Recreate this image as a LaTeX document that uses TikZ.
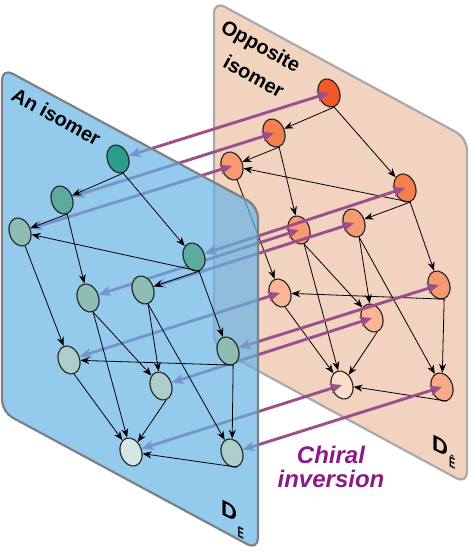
\documentclass[tikz,border=0pt]{standalone}
\usepackage{fontspec}
\setmainfont{Liberation Sans}
\usetikzlibrary{shapes.geometric,arrows.meta}
\pgfdeclarelayer{bg}
\pgfdeclarelayer{arr}
\pgfdeclarelayer{bpanel}
\pgfsetlayers{bg,arr,bpanel,main}
\definecolor{peach}{HTML}{F1D3BF}
\definecolor{bluep}{HTML}{66B5E6}
\definecolor{pborder}{HTML}{A9A9AC}
\definecolor{bborder}{HTML}{7E8083}
\definecolor{arrowc}{HTML}{9C4F8C}
\definecolor{chiralc}{HTML}{8C1A84}
\definecolor{ndline}{HTML}{231F20}
\definecolor{ta}{HTML}{2E9C8C}
\definecolor{tb}{HTML}{5CAC9E}
\definecolor{tc}{HTML}{8DBDB3}
\definecolor{td}{HTML}{ABCEC9}
\definecolor{te}{HTML}{D6E6E3}
\definecolor{oa}{HTML}{F05A28}
\definecolor{ob}{HTML}{F4804F}
\definecolor{oc}{HTML}{F69A72}
\definecolor{od}{HTML}{F9B594}
\definecolor{oe}{HTML}{FCDCCB}
\definecolor{of}{HTML}{F9AA88}
\newcommand{\subE}[1]{\scalebox{0.62}[1]{\fontsize{15}{15}\selectfont\bfseries #1}}
\begin{document}
\begin{tikzpicture}[x=1pt,y=-1pt,
  nd/.style={ellipse, draw=ndline, line width=1.1pt, minimum width=21pt, minimum height=29pt, inner sep=0pt, rotate=20},
  ed/.style={-{Stealth[length=9pt,width=7pt]}, line width=0.8pt, draw=black},
  ch/.style={{Stealth[length=12pt,width=10pt,inset=3pt]}-{Stealth[length=12pt,width=10pt,inset=3pt]}, line width=2.9pt, draw=arrowc},
  panel/.style={rounded corners=12pt, line width=2.2pt},
  ttl/.style={font=\fontsize{20}{30}\selectfont\bfseries, rotate=-29, anchor=base west, inner sep=0pt, align=left},
  dlab/.style={yslant=-0.5, inner sep=0pt, anchor=base west},
  chl/.style={font=\fontsize{24}{24}\selectfont\bfseries\itshape, text=chiralc, anchor=base, inner sep=0pt}]
\useasboundingbox (0,0) rectangle (470,554);
\begin{pgfonlayer}{bg}
% right panel
\draw[panel, draw=pborder, fill=peach] (214,1) -- (467,138) -- (467,484) -- (214,347) -- cycle;
% right graph
\node[nd, fill=oa] (R1) at (329,93) {};
\node[nd, fill=ob] (R2) at (274,133) {};
\node[nd, fill=oc] (R3) at (232,166) {};
\node[nd, fill=ob] (R4) at (405,188) {};
\node[nd, fill=oc] (R5) at (354,223) {};
\node[nd, fill=oc] (R6) at (299,230) {};
\node[nd, fill=od] (R7) at (280,293) {};
\node[nd, fill=oc] (R8) at (439,285) {};
\node[nd, fill=od] (R9) at (372,318) {};
\node[nd, fill=oe] (R10) at (342,385) {};
\node[nd, fill=of] (R11) at (442,387) {};
\foreach \a/\b in {1/2,1/4,2/3,4/3,2/6,4/5,3/7,4/8,8/7,6/9,6/10,5/9,5/11,7/10,9/10,8/11,11/10}
  \draw[ed] (R\a.south) -- (R\b);
\node[ttl] (t3) at (205,57.2) {Opposite\\\hspace*{19pt}isomer};
\node[dlab] (d2) at (432,449) {{\fontsize{22}{22}\selectfont\bfseries D}\hspace{1pt}\raisebox{-9pt}{\subE{Ē}}};
\end{pgfonlayer}
\begin{pgfonlayer}{bpanel}
\draw[panel, draw=bborder, fill=bluep, fill opacity=0.7] (2,68) -- (258,206) -- (258,550) -- (2,412) -- cycle;
\end{pgfonlayer}
% left graph
\node[nd, fill=ta] (L1) at (118,159) {};
\node[nd, fill=tb] (L2) at (62,200) {};
\node[nd, fill=tc] (L3) at (20,232) {};
\node[nd, fill=tb] (L4) at (194,257) {};
\node[nd, fill=tc] (L5) at (143,290) {};
\node[nd, fill=tc] (L6) at (88,298) {};
\node[nd, fill=td] (L7) at (69,360) {};
\node[nd, fill=tc] (L8) at (228,351) {};
\node[nd, fill=td] (L9) at (161,386) {};
\node[nd, fill=te] (L10) at (131,452) {};
\node[nd, fill=td] (L11) at (232,453) {};
\foreach \a/\b in {1/2,1/4,2/3,4/3,2/6,4/5,3/7,4/8,8/7,6/9,6/10,5/9,5/11,7/10,9/10,8/11,11/10}
  \draw[ed] (L\a.south) -- (L\b);
\node[ttl] (t1) at (10,99) {An isomer};
\node[dlab] (d1) at (221,514) {{\fontsize{22}{22}\selectfont\bfseries D}\hspace{0.5pt}\raisebox{-14pt}{\subE{E}}};
% chiral inversion arrows
\begin{pgfonlayer}{arr}
\foreach \k in {1,...,11}
  \draw[ch] (L\k) -- (R\k.center);
\end{pgfonlayer}
\node[chl] (c1) at (331,463) {Chiral};
\node[chl] (c2) at (331,487) {inversion};
\end{tikzpicture}
\end{document}
